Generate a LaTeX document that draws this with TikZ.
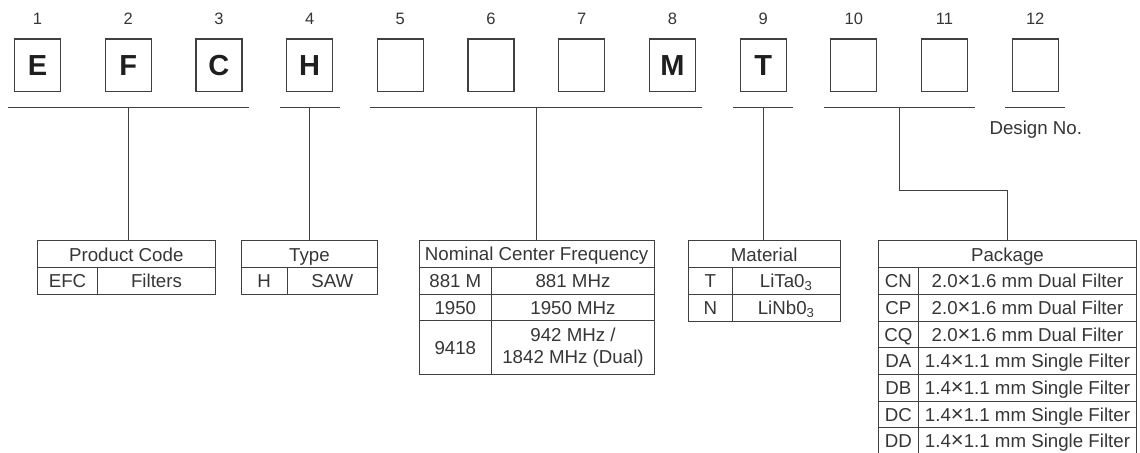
\documentclass[tikz,border=0pt]{standalone}
\usepackage{fontspec}
\setmainfont{Liberation Sans}
\usetikzlibrary{positioning, calc}

\definecolor{lineink}{HTML}{404040}
\definecolor{textink}{HTML}{363636}
\newcommand{\tabfont}{\fontsize{18.7}{21.7}\selectfont}
\newcommand{\numfont}{\fontsize{16.5}{19}\selectfont}
\newcommand{\codefont}{\fontsize{29}{32}\selectfont\bfseries}
\newcommand{\by}{{\fontsize{22}{22}\selectfont ×}}

\begin{document}
\begin{tikzpicture}[x=1pt, y=1pt, scale=0.5, every node/.style={transform shape},
    tbase/.style={rectangle, draw=lineink, line width=0.5pt, inner sep=0pt, outer sep=0pt, anchor=north west, align=center, minimum height=26.67, font=\tabfont, text=textink},
    tcell/.style={tbase, text height=13.4, text depth=0pt},
    code_box/.style={rectangle, draw=lineink, line width=0.6pt, inner sep=0pt, outer sep=0pt, minimum width=46, minimum height=52.6, font=\codefont, text=black!88, text height=21, text depth=0pt},
    digit_num/.style={font=\numfont, text=textink, inner sep=0pt, text height=11.8, text depth=0pt},
    bracket/.style={draw=lineink, line width=0.5pt},
    ]
    \clip (0,0) rectangle (1140,-453);

    % Code boxes and position numbers
    \foreach \i/\ch in {1/E,2/F,3/C,4/H,5/{},6/{},7/{},8/M,9/T,10/{},11/{},12/{}} {
        \node[code_box] (c\i) at ({37.5+90.7*(\i-1)}, -65.3) {\ch};
        \node[digit_num] (n\i) at ({37.5+90.7*(\i-1)}, -18.5) {\i};
    }

    % Brackets under the boxes
    \draw[bracket] ($(c1.south west)+(-7,-15.7)$) -- ($(c3.south east)+(7,-15.7)$);
    \draw[bracket] ($(c4.south west)+(-7,-15.7)$) -- ($(c4.south east)+(7,-15.7)$);
    \draw[bracket] ($(c5.south west)+(-7,-15.7)$) -- ($(c8.south east)+(7,-15.7)$);
    \draw[bracket] ($(c9.south west)+(-7,-15.7)$) -- ($(c9.south east)+(7,-15.7)$);
    \draw[bracket] ($(c10.south west)+(-7,-15.7)$) -- ($(c11.south east)+(7,-15.7)$);
    \draw[bracket] ($(c12.south west)+(-7,-15.7)$) -- ($(c12.south east)+(7,-15.7)$);
    \coordinate (b1) at ($(c2.south)+(0,-15.7)$);
    \coordinate (b2) at ($(c4.south)+(0,-15.7)$);
    \coordinate (b3) at ($(c6.south)!0.5!(c7.south)+(0,-15.7)$);
    \coordinate (b4) at ($(c9.south)+(0,-15.7)$);
    \coordinate (b5) at ($(c10.south)!0.5!(c11.south)+(0,-15.7)$);
    \node[font=\tabfont, text=textink, inner sep=0pt, text height=13.4, text depth=0pt] (design) at (1035.8,-127.5) {Design No.};

    % Product code
    \node[tcell, minimum width=178] (pc_head) at (37.3,-241) {Product Code};
    \node[tcell, minimum width=60.4] (pc_code) at (pc_head.south west) {EFC};
    \node[tcell, minimum width=117.6] (pc_name) at (pc_code.north east) {Filters};

    % Type
    \node[tcell, minimum width=136.4] (ty_head) at (241.3,-241) {Type};
    \node[tcell, minimum width=45.7] (ty_code) at (ty_head.south west) {H};
    \node[tcell, minimum width=90.7] (ty_name) at (ty_code.north east) {SAW};

    % Nominal center frequency
    \node[tcell, minimum width=235.3] (fr_head) at (419,-240.7) {Nominal Center Frequency};
    \node[tcell, minimum width=72.7] (fr_code1) at (fr_head.south west) {881 M};
    \node[tcell, minimum width=162.6] (fr_name1) at (fr_code1.north east) {881 MHz};
    \node[tcell, minimum width=72.7] (fr_code2) at (fr_code1.south west) {1950};
    \node[tcell, minimum width=162.6] (fr_name2) at (fr_code2.north east) {1950 MHz};
    \node[tcell, minimum width=72.7, minimum height=53.33] (fr_code3) at (fr_code2.south west) {9418};
    \node[tbase, minimum width=162.6, minimum height=53.33] (fr_name3) at (fr_code3.north east) {942 MHz /\\1842 MHz (Dual)};

    % Material
    \node[tcell, minimum width=151.7] (ma_head) at (688.3,-241) {Material};
    \node[tcell, minimum width=44] (ma_code1) at (ma_head.south west) {T};
    \node[tcell, minimum width=107.7] (ma_name1) at (ma_code1.north east) {LiTa0\textsubscript{3}};
    \node[tcell, minimum width=44] (ma_code2) at (ma_code1.south west) {N};
    \node[tcell, minimum width=107.7] (ma_name2) at (ma_code2.north east) {LiNb0\textsubscript{3}};

    % Package
    \node[tcell, minimum width=258.4] (pk_head) at (878.3,-241) {Package};
    \foreach \code/\desc [count=\r] in {CN/2.0\by1.6 mm Dual Filter, CP/2.0\by1.6 mm Dual Filter, CQ/2.0\by1.6 mm Dual Filter,
        DA/1.4\by1.1 mm Single Filter, DB/1.4\by1.1 mm Single Filter, DC/1.4\by1.1 mm Single Filter, DD/1.4\by1.1 mm Single Filter} {
        \node[tcell, minimum width=40] (pk_code\r) at ($(pk_head.south west)+(0,{-26.67*(\r-1)})$) {\code};
        \node[tcell, minimum width=218.4] (pk_name\r) at (pk_code\r.north east) {\desc};
    }

    % Stems to the tables
    \draw[bracket] (b1) -- (b1 |- pc_head.north);
    \draw[bracket] (b2) -- (b2 |- ty_head.north);
    \draw[bracket] (b3) -- (b3 |- fr_head.north);
    \draw[bracket] (b4) -- (b4 |- ma_head.north);
    \draw[bracket] (b5) -- ++(0,-83.4) -| (pk_head.north);
\end{tikzpicture}
\end{document}
